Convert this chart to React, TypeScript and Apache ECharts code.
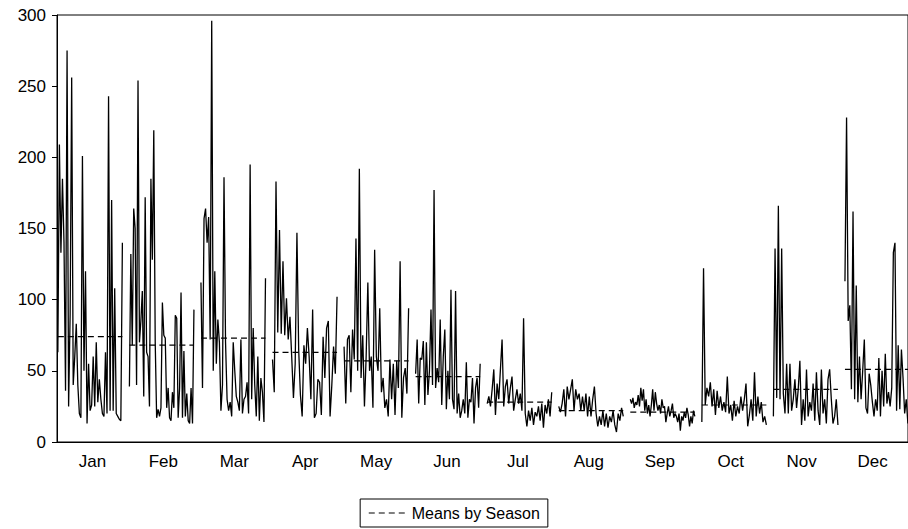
import React, { useEffect, useRef } from "react";
import * as echarts from "echarts";

const months = ["Jan", "Feb", "Mar", "Apr", "May", "Jun", "Jul", "Aug", "Sep", "Oct", "Nov", "Dec"];

const jan = [63, 209, 133, 185, 140, 36, 275, 25, 90, 256, 40, 60, 83, 40, 20, 17, 201, 50, 120, 13, 55, 22, 26, 60, 25, 70, 28, 44, 30, 20, 18, 63, 20, 243, 22, 170, 22, 108, 20, 18, 16, 15, 140];
const feb = [39, 132, 68, 164, 150, 40, 254, 70, 85, 106, 32, 172, 63, 60, 25, 185, 128, 219, 70, 17, 23, 18, 24, 98, 75, 73, 24, 38, 17, 15, 35, 24, 89, 87, 17, 38, 105, 17, 64, 18, 34, 15, 13, 38, 13, 93];
const mar = [112, 38, 157, 164, 140, 158, 72, 296, 50, 120, 55, 86, 70, 22, 40, 186, 70, 30, 22, 28, 18, 70, 50, 32, 28, 22, 72, 20, 30, 32, 42, 20, 195, 30, 80, 40, 18, 60, 15, 45, 35, 14, 115];
const apr = [58, 35, 183, 77, 149, 76, 127, 75, 101, 72, 88, 60, 31, 55, 147, 65, 33, 18, 68, 55, 80, 60, 30, 93, 17, 20, 44, 42, 19, 74, 45, 80, 85, 18, 40, 67, 48, 102];
const may = [67, 27, 72, 75, 35, 79, 58, 143, 50, 192, 45, 75, 25, 60, 112, 50, 60, 24, 135, 60, 50, 94, 35, 45, 24, 30, 18, 58, 30, 55, 19, 57, 38, 127, 17, 45, 52, 34, 94];
const jun = [48, 72, 27, 59, 58, 71, 26, 70, 33, 50, 93, 40, 177, 38, 52, 42, 86, 26, 60, 79, 23, 50, 30, 107, 30, 23, 106, 20, 34, 17, 22, 30, 20, 56, 17, 30, 28, 45, 13, 38, 45, 24, 55];
const jul = [27, 32, 25, 37, 51, 19, 41, 30, 51, 72, 25, 39, 44, 27, 38, 46, 22, 30, 37, 27, 34, 22, 87, 20, 11, 22, 15, 24, 12, 21, 18, 25, 15, 27, 10, 26, 20, 30, 18, 35];
const aug = [25, 21, 27, 37, 18, 39, 30, 37, 44, 22, 37, 30, 34, 22, 32, 22, 34, 18, 32, 18, 30, 39, 20, 11, 18, 12, 22, 11, 20, 10, 18, 14, 22, 12, 7, 20, 15, 24, 18];
const sep = [30, 27, 31, 24, 28, 26, 33, 25, 38, 29, 37, 22, 30, 20, 26, 18, 26, 37, 22, 35, 27, 22, 26, 20, 30, 24, 25, 14, 20, 25, 18, 22, 27, 17, 20, 18, 14, 20, 8, 18, 15, 21, 17, 24, 19, 11, 18, 13, 22, 18];
const oct = [14, 122, 26, 38, 32, 42, 25, 37, 19, 36, 24, 32, 22, 28, 21, 46, 20, 26, 15, 29, 18, 25, 20, 32, 22, 30, 41, 11, 19, 30, 15, 49, 18, 32, 20, 28, 14, 18, 12];
const nov = [18, 136, 31, 166, 30, 136, 34, 20, 55, 20, 55, 22, 30, 44, 24, 37, 57, 12, 30, 15, 51, 18, 28, 22, 41, 15, 49, 22, 12, 51, 20, 30, 13, 44, 51, 30, 13, 18, 30, 12];
const dec = [113, 228, 85, 96, 37, 162, 30, 110, 28, 60, 30, 50, 72, 24, 20, 48, 40, 28, 18, 30, 22, 59, 18, 50, 25, 62, 27, 35, 25, 38, 133, 140, 22, 68, 23, 65, 45, 20, 30, 13, 24];

const monthlyValues = [jan, feb, mar, apr, may, jun, jul, aug, sep, oct, nov, dec];
const seasonMeans = [74, 68, 73, 63, 57, 46, 28, 22, 21, 26, 37, 51];

const FONT = "'Liberation Sans', Arial, Helvetica, sans-serif";
const PANEL_OFFSET = 0.012;
const PANEL_STEP = 1.009;
const PANEL_SPAN = 0.91;

export default function App() {
  const ref = useRef<HTMLDivElement>(null);

  useEffect(() => {
    if (!ref.current) return;
    const chart = echarts.init(ref.current, undefined, { renderer: "svg" });

    const series: any[] = [];
    monthlyValues.forEach((vals, m) => {
      const start = PANEL_OFFSET + m * PANEL_STEP;
      series.push({
        type: "line",
        name: "Series",
        xAxisIndex: 0,
        yAxisIndex: 0,
        data: vals.map((v, i) => [start + (i * PANEL_SPAN) / (vals.length - 1), v]),
        showSymbol: false,
        symbol: "none",
        silent: true,
        lineStyle: { color: "#000", width: 1.3 },
        z: 3,
      });
    });
    seasonMeans.forEach((mean, m) => {
      const start = PANEL_OFFSET + m * PANEL_STEP;
      series.push({
        type: "line",
        name: "Means by Season",
        xAxisIndex: 0,
        yAxisIndex: 0,
        data: [
          [start, mean],
          [start + PANEL_SPAN, mean],
        ],
        symbol: "none",
        silent: true,
        itemStyle: { color: "#000" },
        lineStyle: { color: "#000", width: 1.2, type: [6, 4] },
        z: 4,
      });
    });

    chart.setOption({
      animation: false,
      backgroundColor: "#fff",
      grid: { left: 57, right: -1, top: 15, bottom: 87, show: true, borderColor: "#000", borderWidth: 1, containLabel: false },
      legend: {
        data: ["Means by Season"],
        bottom: 2,
        left: "center",
        borderColor: "#000",
        borderWidth: 1,
        borderRadius: 0,
        padding: [6, 8, 6, 8],
        itemWidth: 38,
        itemHeight: 14,
        itemGap: 6,
        textStyle: { fontSize: 16, color: "#000", fontFamily: FONT },
        itemStyle: { opacity: 0 },
        lineStyle: { type: [6, 4], width: 1.2, color: "#000" },
        selectedMode: false,
      },
      xAxis: [
        {
          type: "value",
          min: 0,
          max: 12,
          interval: 1,
          axisLine: { show: true, onZero: false, lineStyle: { color: "#000", width: 1 } },
          axisTick: { show: false },
          axisLabel: { show: false },
          splitLine: { show: false },
        },
        {
          type: "category",
          data: months,
          position: "bottom",
          boundaryGap: true,
          axisLine: { show: false },
          axisTick: { show: false },
          axisLabel: { color: "#000", fontSize: 17, fontFamily: FONT, margin: 11 },
          splitLine: { show: false },
        },
      ],
      yAxis: {
        type: "value",
        min: 0,
        max: 300,
        interval: 50,
        axisLine: { show: true, lineStyle: { color: "#000", width: 1 } },
        axisTick: { show: true, inside: false, length: 5, lineStyle: { color: "#000" } },
        axisLabel: { color: "#000", fontSize: 17, fontFamily: FONT, margin: 11 },
        splitLine: { show: false },
      },
      series,
    });

    return () => chart.dispose();
  }, []);

  return <div ref={ref} style={{ position: "fixed", left: 0, top: 0, width: 908, height: 529 }} />;
}
